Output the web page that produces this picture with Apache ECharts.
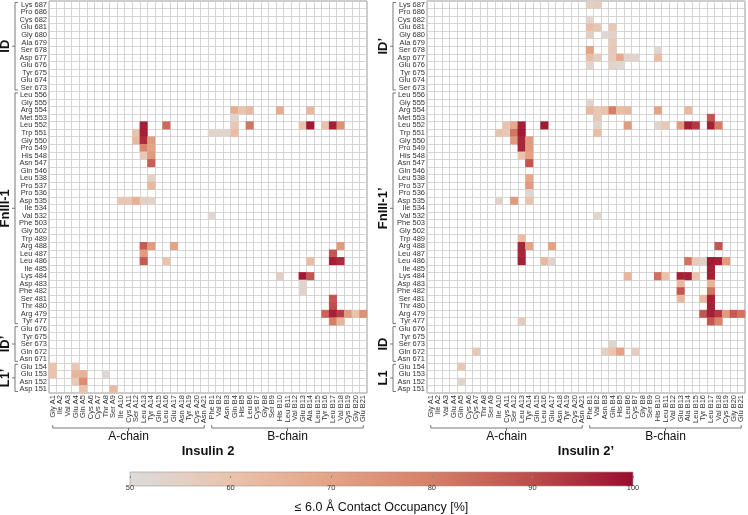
<!DOCTYPE html>
<html><head><meta charset="utf-8">
<script src="https://cdn.jsdelivr.net/npm/echarts@6/dist/echarts.min.js"></script>
<style>html,body{margin:0;padding:0;background:#fff}#c{width:748px;height:515px}</style>
</head><body><div id="c"></div>
<script>
// ---- categories / tick labels ----
const insulinResidues = ['Gly A1','Ile A2','Val A3','Glu A4','Gln A5','Cys A6','Cys A7','Thr A8','Ser A9','Ile A10','Cys A11','Ser A12','Leu A13','Tyr A14','Gln A15','Leu A16','Glu A17','Asn A18','Tyr A19','Cys A20','Asn A21',
  'Phe B1','Val B2','Asn B3','Gln B4','His B5','Leu B6','Cys B7','Gly B8','Ser B9','His B10','Leu B11','Val B12','Glu B13','Ala B14','Leu B15','Tyr B16','Leu B17','Val B18','Cys B19','Gly B20','Glu B21'];
const receptorResidues = ['Lys 687','Pro 686','Cys 682','Glu 681','Gly 680','Ala 679','Ser 678','Asp 677','Glu 676','Tyr 675','Glu 674','Ser 673',
  'Leu 556','Gly 555','Arg 554','Met 553','Leu 552','Trp 551','Gly 550','Pro 549','His 548','Asn 547','Gln 546','Leu 538','Pro 537','Pro 536','Asp 535','Ile 534','Val 532','Phe 503','Gly 502','Trp 489','Arg 488','Leu 487','Leu 486','Ile 485','Lys 484','Asp 483','Phe 482','Ser 481','Thr 480','Arg 479','Tyr 477',
  'Glu 676','Tyr 675','Ser 673','Gln 672','Asn 671','Glu 154','Glu 153','Asn 152','Asp 151'];
const insulinChains = [['A-chain',0,20],['B-chain',21,41]];
const receptorGroupsLeft = [['ID',0,11],['FnIII-1',12,42],['ID\u2019',43,47],['L1\u2019',48,51]];
const receptorGroupsRight = [['ID\u2019',0,11],['FnIII-1\u2019',12,42],['ID',43,47],['L1',48,51]];
const panelTitles = ['Insulin 2','Insulin 2\u2019'];
const colorbarTicks = [50,60,70,80,90,100];
const colorbarTitle = '\u2264 6.0 \u00C5 Contact Occupancy [%]';

// ---- values: [insulin column index, receptor row index, occupancy %] ----
const contactsInsulin2 = [
  [24,14,67],[25,14,59],[26,14,63],[30,14,67],[34,14,63],
  [24,15,53],
  [12,16,97],[15,16,84],[24,16,58],[26,16,82],[33,16,60],[34,16,98],[36,16,60],[37,16,97],[38,16,75],
  [11,17,60],[12,17,97],[21,17,53],[22,17,53],[23,17,53],[24,17,62],
  [11,18,63],[12,18,95],[13,18,72],
  [12,19,78],[13,19,70],
  [12,20,58],[13,20,72],
  [13,21,86],
  [13,23,54],
  [13,24,63],
  [9,26,58],[10,26,59],[11,26,66],[12,26,55],[13,26,54],
  [21,28,52],
  [12,32,87],[13,32,72],[16,32,70],[38,32,72],
  [12,33,72],[37,33,88],
  [12,34,87],[15,34,60],[34,34,62],[37,34,97],[38,34,95],
  [30,36,55],[33,36,98],[34,36,88],
  [33,37,53],
  [33,38,53],
  [37,39,88],
  [37,40,90],
  [36,41,85],[37,41,97],[38,41,92],[39,41,72],[40,41,60],[41,41,75],
  [37,42,80],[38,42,65],
  [0,48,60],[3,48,58],
  [0,49,60],[3,49,64],[4,49,65],[7,49,52],
  [3,50,57],[4,50,76],
  [4,51,60],[8,51,62]
];
const contactsInsulin2Prime = [
  [21,0,55],[22,0,56],
  [21,2,53],
  [21,3,62],[22,3,58],[24,3,58],
  [21,4,55],[23,4,52],[24,4,54],
  [24,5,57],
  [21,6,70],[24,6,58],[30,6,52],
  [21,7,62],[22,7,56],[24,7,57],[25,7,68],[26,7,54],[27,7,53],[30,7,62],
  [21,8,53],[24,8,54],[25,8,52],
  [21,13,53],
  [21,14,63],[22,14,58],[23,14,60],[24,14,80],[25,14,62],[26,14,63],[30,14,70],[34,14,63],
  [22,15,58],[37,15,88],
  [10,16,60],[11,16,68],[12,16,97],[15,16,98],[22,16,53],[26,16,72],[30,16,53],[31,16,58],[33,16,72],[34,16,97],[35,16,93],[37,16,97],[38,16,80],
  [9,17,60],[10,17,58],[11,17,82],[12,17,98],[22,17,62],
  [11,18,72],[12,18,96],[13,18,72],
  [12,19,96],[13,19,72],
  [12,20,60],[13,20,70],
  [13,21,88],
  [13,23,68],
  [13,24,72],
  [13,25,52],
  [9,26,54],[11,26,72],[13,26,60],
  [22,28,53],
  [12,31,62],
  [12,32,96],[13,32,70],[16,32,70],[38,32,88],
  [12,33,96],
  [12,34,97],[15,34,63],[16,34,53],[34,34,82],[35,34,57],[36,34,55],[37,34,98],[38,34,97],[39,34,72],
  [37,35,97],
  [26,36,64],[30,36,83],[31,36,60],[33,36,97],[34,36,97],[35,36,60],[37,36,97],
  [33,37,63],[37,37,65],
  [33,38,88],[37,38,82],
  [33,39,63],[36,39,63],[37,39,97],
  [37,40,97],
  [36,41,88],[37,41,97],[38,41,93],[39,41,72],[40,41,87],[41,41,82],
  [12,42,57],[37,42,88],[38,42,78],
  [24,45,53],
  [6,46,58],[23,46,55],[24,46,60],[25,46,70],[27,46,56],
  [4,48,58],
  [4,50,53]
];

// ---- styling / layout ----
const FONT = '"Liberation Sans", Arial, sans-serif';
const palette = ['#dcdcdc','#eac3ad','#e4a385','#d67f67','#bd4c4b','#9a0c2e'];
const panels = [{left:49, groups:receptorGroupsLeft, title:panelTitles[0], data:contactsInsulin2},
                {left:427, groups:receptorGroupsRight, title:panelTitles[1], data:contactsInsulin2Prime}];
const TOP = 1, W = 318, H = 392;
const nR = receptorResidues.length, nC = insulinResidues.length;
const rowH = H / nR, colW = W / nC;
const CB = {left:130, top:472, width:503, height:14};

const grids = [], xAxes = [], yAxes = [], series = [], graphics = [];
panels.forEach((p, k) => {
  grids.push({left:p.left, top:TOP, width:W, height:H, show:true, borderColor:'#9a9a9a', borderWidth:1, backgroundColor:'transparent'});
  xAxes.push({type:'category', gridIndex:k, data:insulinResidues, boundaryGap:true,
    axisLine:{show:false}, axisTick:{show:false},
    axisLabel:{interval:0, rotate:90, fontSize:7.5, margin:2, color:'#333', fontFamily:FONT},
    splitLine:{show:true, interval:0, lineStyle:{color:'#cccccc', width:0.8}}});
  yAxes.push({type:'category', gridIndex:k, data:receptorResidues, inverse:true, boundaryGap:true,
    axisLine:{show:false}, axisTick:{show:false},
    axisLabel:{interval:0, fontSize:7.5, margin:2, color:'#333', fontFamily:FONT},
    splitLine:{show:true, interval:0, lineStyle:{color:'#cccccc', width:0.8}}});
  series.push({type:'heatmap', xAxisIndex:k, yAxisIndex:k, data:p.data, itemStyle:{borderWidth:0}, emphasis:{disabled:true}});

  // receptor group brackets (left of tick labels)
  const bx = p.left - 34;
  p.groups.forEach(([name, a, b]) => {
    const y1 = TOP + rowH * a + 1.5, y2 = TOP + rowH * (b + 1) - 1.5, ym = (y1 + y2) / 2;
    graphics.push({type:'polyline', shape:{points:[[bx+3,y1],[bx,y1],[bx,y2],[bx+3,y2]]}, style:{stroke:'#555', lineWidth:0.8, fill:null}});
    graphics.push({type:'line', shape:{x1:bx, y1:ym, x2:bx-3, y2:ym}, style:{stroke:'#555', lineWidth:0.8}});
    graphics.push({type:'text', x:bx-10, y:ym, rotation:Math.PI/2,
      style:{text:name, font:'bold 13px ' + FONT, fill:'#111', textAlign:'center', textVerticalAlign:'middle'}});
  });
  // insulin chain brackets
  const by = 428;
  insulinChains.forEach(([name, a, b]) => {
    const x1 = p.left + colW * (a + 0.5), x2 = p.left + colW * (b + 0.5), xm = (x1 + x2) / 2;
    graphics.push({type:'polyline', shape:{points:[[x1,by-3],[x1,by],[x2,by],[x2,by-3]]}, style:{stroke:'#555', lineWidth:0.8, fill:null}});
    graphics.push({type:'line', shape:{x1:xm, y1:by, x2:xm, y2:by+3}, style:{stroke:'#555', lineWidth:0.8}});
    graphics.push({type:'text', x:xm, y:437, style:{text:name, font:'12px ' + FONT, fill:'#111', textAlign:'center', textVerticalAlign:'middle'}});
  });
  graphics.push({type:'text', x:p.left + W/2, y:451, style:{text:p.title, font:'bold 13px ' + FONT, fill:'#111', textAlign:'center', textVerticalAlign:'middle'}});
});

// colorbar
graphics.push({type:'rect', shape:{x:CB.left, y:CB.top, width:CB.width, height:CB.height},
  style:{fill:new echarts.graphic.LinearGradient(0,0,1,0, palette.map((c,i)=>({offset:i/(palette.length-1), color:c}))), stroke:'#999', lineWidth:0.6}});
grids.push({left:CB.left, top:CB.top, width:CB.width, height:CB.height, show:false});
xAxes.push({type:'value', gridIndex:2, min:colorbarTicks[0], max:colorbarTicks[colorbarTicks.length-1], interval:10,
  axisLine:{show:false}, axisTick:{show:true, length:2, lineStyle:{color:'#888'}}, splitLine:{show:false},
  axisLabel:{fontSize:7.5, color:'#333', margin:8, fontFamily:FONT},
  name:colorbarTitle, nameLocation:'middle', nameGap:25, nameTextStyle:{fontSize:12.5, color:'#111', fontFamily:FONT}});
yAxes.push({type:'value', gridIndex:2, show:false, min:0, max:1});

const chart = echarts.init(document.getElementById('c'), null, {renderer:'canvas'});
chart.setOption({
  animation:false,
  backgroundColor:'#fff',
  textStyle:{fontFamily:FONT},
  grid:grids, xAxis:xAxes, yAxis:yAxes,
  visualMap:{show:false, type:'continuous', min:50, max:100, seriesIndex:[0,1], inRange:{color:palette}},
  series:series,
  graphic:graphics
});
</script></body></html>
